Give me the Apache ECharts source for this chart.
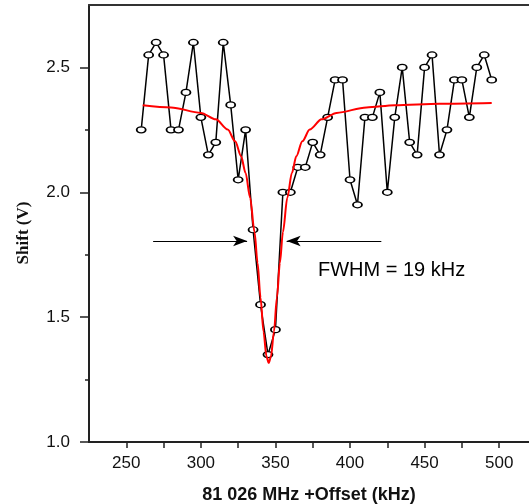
<!DOCTYPE html>
<html><head><meta charset="utf-8">
<script src="https://cdn.jsdelivr.net/npm/echarts@6/dist/echarts.min.js"></script>
<style>html,body{margin:0;padding:0;background:#fff}#c{width:529px;height:504px}</style>
</head><body><div id="c"></div>
<script>
// Measured data (offset in kHz, shift in V)
const freqOffsets = [260,265,270,275,280,285,290,295,300,305,310,315,320,325,330,335,340,345,350,355,360,365,370,375,380,385,390,395,400,405,410,415,420,425,430,435,440,445,450,455,460,465,470,475,480,485,490,495];
const shiftValues = [2.25,2.55,2.60,2.55,2.25,2.25,2.40,2.60,2.30,2.15,2.20,2.60,2.35,2.05,2.25,1.85,1.55,1.35,1.45,2.00,2.00,2.10,2.10,2.20,2.15,2.30,2.45,2.45,2.05,1.95,2.30,2.30,2.40,2.00,2.30,2.50,2.20,2.15,2.50,2.55,2.15,2.25,2.45,2.45,2.30,2.50,2.55,2.45];
// Fitted curve
const fitX = [261,280,300,310,318,323,327,330,333,336,338,340,342,344,345.5,347,349,351,353,355,358,361,364,368,373,381,391,411,430,460,495];
const fitY = [2.349,2.340,2.318,2.292,2.251,2.204,2.144,2.077,1.979,1.840,1.718,1.579,1.442,1.342,1.317,1.342,1.442,1.579,1.718,1.840,1.979,2.077,2.144,2.204,2.251,2.292,2.318,2.340,2.349,2.355,2.358];
// Axis ticks
const xTickLabels = [250,300,350,400,450,500];
const xMinorTicks = [275,325,375,425,475];
const yTickLabels = [1.0,1.5,2.0,2.5];
const yMinorTicks = [1.25,1.75,2.25];
// FWHM arrows (data units)
const arrowLeft = [[268,1.805],[331,1.805]];
const arrowRight = [[421,1.805],[357.5,1.805]];
const fwhmText = 'FWHM = 19 kHz';
const xTitle = '81 026 MHz +Offset (kHz)';
const yTitle = 'Shift (V)';

const chart = echarts.init(document.getElementById('c'), null, {renderer:'canvas'});
const xTicksAll = xTickLabels.concat(xMinorTicks).sort((a,b)=>a-b);
const lineColor = '#222';
const X_MIN = 225, X_MAX = 520;
const option = {
  animation:false,
  backgroundColor:'#fff',
  grid:{left:89, top:5, right:0, bottom:62, show:false, outerBoundsMode:'none', containLabel:false},
  xAxis:[{
    type:'value', min:X_MIN, max:X_MAX,
    name:xTitle, nameLocation:'middle', nameGap:44,
    nameTextStyle:{fontFamily:'Liberation Sans', fontWeight:'bold', fontSize:18, color:'#111'},
    axisLine:{show:true, lineStyle:{color:lineColor, width:2}},
    axisTick:{show:true, customValues:xTicksAll, length:6, lineStyle:{color:lineColor, width:1.5}},
    axisLabel:{customValues:xTickLabels, margin:13, fontFamily:'Liberation Sans', fontSize:17, color:'#111'},
    splitLine:{show:false}
  },{
    type:'value', min:X_MIN, max:X_MAX, position:'top',
    axisLine:{show:true, lineStyle:{color:'#333', width:2}},
    axisTick:{show:false}, axisLabel:{show:false}, splitLine:{show:false}
  }],
  yAxis:[{
    type:'value', min:1.0, max:2.75,
    axisLine:{show:true, lineStyle:{color:lineColor, width:2}},
    axisTick:{show:true, customValues:yTickLabels, length:9, lineStyle:{color:lineColor, width:1.5}},
    axisLabel:{customValues:yTickLabels, margin:19, fontFamily:'Liberation Sans', fontSize:17, color:'#111',
      formatter:v=>v.toFixed(1)},
    splitLine:{show:false}
  },{
    type:'value', min:1.0, max:2.75, position:'left',
    axisLine:{show:false},
    axisTick:{show:true, customValues:yMinorTicks, length:4, lineStyle:{color:lineColor, width:1.5}},
    axisLabel:{show:false},
    splitLine:{show:false}
  }],
  series:[{
    type:'line',
    data:freqOffsets.map((x,i)=>[x,shiftValues[i]]),
    lineStyle:{color:'#000', width:1.5},
    symbol:'circle', symbolSize:[9,6],
    itemStyle:{color:'#fff', borderColor:'#000', borderWidth:1.5},
    z:2,
    markLine:{
      silent:true,
      symbol:['none','arrow'], symbolSize:[8,14],
      lineStyle:{color:'#000', width:1, type:'solid'},
      label:{show:false},
      data:[
        [{coord:arrowLeft[0]},{coord:arrowLeft[1]}],
        [{coord:arrowRight[0]},{coord:arrowRight[1]}]
      ]
    }
  },{
    type:'line',
    data:fitX.map((x,i)=>[x,fitY[i]]),
    showSymbol:false, symbol:'none',
    smooth:0.3, smoothMonotone:'x',
    lineStyle:{color:'#ff0000', width:2},
    z:3
  }],
  graphic:[
    {type:'text', x:318, y:270, style:{text:fwhmText, font:'20px "Liberation Sans"', fill:'#000', textVerticalAlign:'middle', textAlign:'left'}},
    {type:'text', x:24, y:233, rotation:Math.PI/2, style:{text:yTitle, font:'bold 17px "Liberation Serif"', fill:'#111', textAlign:'center', textVerticalAlign:'middle'}}
  ]
};
chart.setOption(option);
</script></body></html>
